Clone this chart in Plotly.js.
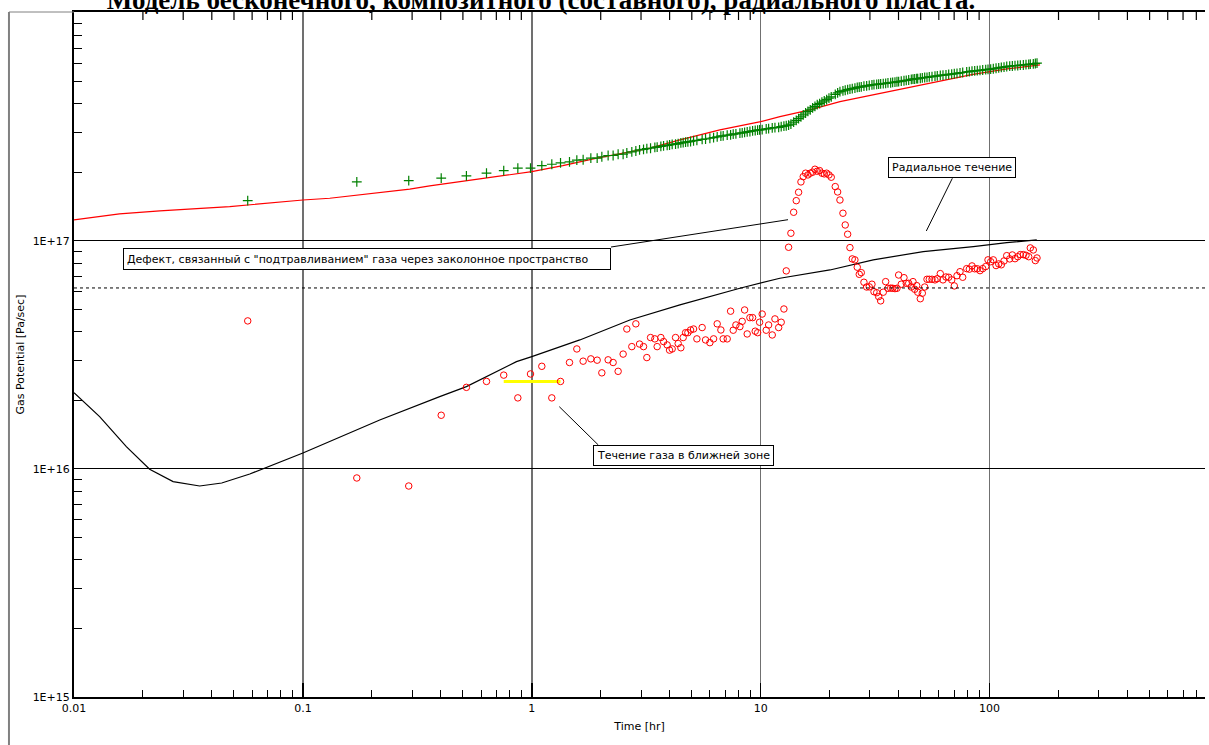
<!DOCTYPE html>
<html>
<head>
<meta charset="utf-8">
<script src="https://cdn.plot.ly/plotly-3.0.1.min.js"></script>
<style>html,body{margin:0;padding:0;background:#fff;}#chart{width:1209px;height:745px;}</style>
</head>
<body>
<div id="chart"></div>
<script>
// ---- data (time in hours, gas potential in Pa/sec) ----
const time = [
0.0574, 0.172, 0.290, 0.402, 0.518, 0.634, 0.754, 0.869, 0.987, 1.106, 1.223, 1.335,
1.461, 1.573, 1.676, 1.811, 1.930, 2.023, 2.155, 2.266, 2.383, 2.506, 2.601, 2.735, 2.848, 2.956,
3.077, 3.181, 3.302, 3.448, 3.529, 3.663, 3.764, 3.903, 3.998, 4.104, 4.246, 4.359, 4.479, 4.585,
4.697, 4.807, 4.939, 5.090, 5.263, 5.549, 5.742, 5.998, 6.225, 6.455, 6.699, 6.856, 7.139, 7.387,
7.584, 7.793, 8.113, 8.302, 8.505, 8.730, 8.971, 9.218, 9.462, 9.694, 9.890, 10.15, 10.57, 10.83,
11.23, 11.54, 11.98, 12.29, 12.63,
12.93, 13.24, 13.55, 13.93, 14.30, 14.64, 14.99, 15.34, 15.71, 16.08, 16.46, 16.86, 17.26, 17.66,
18.09, 18.51, 18.95, 19.41, 19.87, 20.33, 21.17, 21.68, 22.19, 22.87, 23.40, 23.98, 24.54, 25.12,
25.80, 26.41, 26.95, 27.50, 28.25, 29.03, 29.80, 30.62, 31.25, 32.11, 32.76, 33.42, 34.31, 35.15,
35.97, 36.96, 37.71, 38.59, 39.38, 40.06, 41.12, 42.26, 43.24, 44.31, 45.49, 46.27, 47.07, 48.03,
48.52, 49.80, 50.82, 52.05, 53.27, 54.51, 56.02, 57.73, 59.08, 60.89, 62.56, 64.48, 66.26, 68.29,
70.11, 72.04, 74.25, 76.29, 79.42, 81.53, 83.77, 86.08, 88.36, 90.78, 93.28, 96.16, 98.4, 101.1,
103.8, 106.7, 109.6, 112.5, 115.6, 118.8, 122.4, 125.7, 129.1, 132.7, 136.2, 140.4, 144.2, 148.2,
150.6, 155.2, 158.4, 161.1];

const derivative = [
4.46e16, 9.13e15, 8.42e15, 1.72e16, 2.28e16, 2.42e16, 2.58e16, 2.05e16, 2.61e16, 2.82e16, 2.05e16, 2.42e16,
2.93e16, 3.36e16, 2.97e16, 3.04e16, 3.00e16, 2.64e16, 3.01e16, 2.93e16, 2.68e16, 3.19e16, 4.11e16, 3.44e16,
4.33e16, 3.53e16, 3.44e16, 3.08e16, 3.77e16, 3.72e16, 3.44e16, 3.77e16, 3.62e16, 3.50e16, 3.32e16, 3.36e16,
3.77e16, 3.55e16, 3.40e16, 3.77e16, 3.96e16, 3.96e16, 4.07e16, 4.11e16, 3.72e16, 4.17e16, 3.68e16, 3.58e16,
3.72e16, 4.33e16, 4.07e16, 3.72e16, 3.72e16, 4.92e16, 4.06e16, 4.28e16, 4.21e16, 4.44e16, 4.98e16, 3.91e16,
4.61e16, 4.61e16, 4.02e16, 3.96e16, 4.40e16, 4.78e16, 4.06e16, 4.28e16, 3.87e16, 4.55e16, 4.17e16, 4.40e16,
5.03e16,
7.39e16, 9.38e16, 1.081e17, 1.336e17, 1.502e17, 1.635e17, 1.815e17, 1.914e17, 1.982e17, 1.948e17, 1.982e17,
2.002e17, 2.063e17, 2.022e17, 2.034e17, 1.982e17, 1.968e17, 1.982e17, 1.948e17, 1.903e17, 1.731e17, 1.640e17,
1.512e17, 1.323e17, 1.175e17, 1.070e17, 9.35e16, 8.34e16, 8.26e16, 7.67e16, 7.14e16, 7.26e16, 6.59e16,
6.28e16, 6.29e16, 6.46e16, 5.99e16, 5.93e16, 5.70e16, 5.46e16, 5.96e16, 6.63e16, 6.20e16, 6.21e16, 6.20e16,
6.18e16, 6.20e16, 7.09e16, 6.46e16, 6.90e16, 6.52e16, 6.52e16, 6.28e16, 6.63e16, 6.14e16, 6.37e16, 5.96e16,
5.58e16, 5.90e16, 6.28e16, 6.79e16, 6.79e16, 6.79e16, 6.75e16, 6.83e16, 7.19e16, 6.75e16, 6.95e16, 6.93e16,
6.75e16, 6.35e16, 7.04e16, 7.33e16, 6.93e16, 7.56e16, 7.52e16, 7.77e16, 7.55e16, 7.55e16, 7.41e16, 7.56e16,
7.72e16, 8.26e16, 8.11e16, 8.26e16, 7.80e16, 7.93e16, 7.86e16, 8.17e16, 8.62e16, 8.34e16, 8.68e16, 8.36e16,
8.53e16, 8.71e16, 8.71e16, 8.65e16, 8.53e16, 9.32e16, 9.13e16, 8.20e16, 8.42e16];

const pressure = [
1.502e17, 1.815e17, 1.839e17, 1.884e17, 1.928e17, 1.982e17, 2.034e17, 2.084e17, 2.084e17, 2.139e17, 2.169e17, 2.198e17,
2.22e17, 2.26e17, 2.27e17, 2.31e17, 2.31e17, 2.34e17, 2.37e17, 2.37e17, 2.40e17, 2.40e17, 2.43e17, 2.46e17,
2.48e17, 2.51e17, 2.52e17, 2.54e17, 2.55e17, 2.57e17, 2.58e17, 2.60e17, 2.61e17, 2.625e17, 2.635e17, 2.65e17,
2.66e17, 2.67e17, 2.69e17, 2.70e17, 2.71e17, 2.72e17, 2.73e17, 2.75e17, 2.76e17, 2.79e17, 2.80e17, 2.82e17,
2.84e17, 2.86e17, 2.88e17, 2.89e17, 2.91e17, 2.92e17, 2.94e17, 2.95e17, 2.97e17, 2.98e17, 2.995e17, 3.01e17,
3.02e17, 3.04e17, 3.05e17, 3.06e17, 3.07e17, 3.08e17, 3.10e17, 3.11e17, 3.13e17, 3.14e17, 3.15e17, 3.17e17,
3.19e17,
3.20e17, 3.22e17, 3.25e17, 3.32e17, 3.38e17, 3.44e17, 3.50e17, 3.57e17, 3.64e17, 3.70e17, 3.76e17, 3.83e17,
3.89e17, 3.96e17, 4.00e17, 4.06e17, 4.11e17, 4.17e17, 4.23e17, 4.28e17, 4.39e17, 4.46e17, 4.52e17, 4.55e17,
4.58e17, 4.61e17, 4.63e17, 4.66e17, 4.68e17, 4.71e17, 4.73e17, 4.74e17, 4.77e17, 4.79e17, 4.81e17, 4.84e17,
4.85e17, 4.86e17, 4.87e17, 4.88e17, 4.90e17, 4.91e17, 4.93e17, 4.94e17, 4.96e17, 4.97e17, 4.99e17, 5.00e17,
5.02e17, 5.04e17, 5.06e17, 5.08e17, 5.11e17, 5.12e17, 5.13e17, 5.15e17, 5.15e17, 5.17e17, 5.19e17, 5.21e17,
5.22e17, 5.24e17, 5.26e17, 5.28e17, 5.30e17, 5.32e17, 5.34e17, 5.35e17, 5.38e17, 5.39e17, 5.41e17, 5.43e17,
5.46e17, 5.48e17, 5.51e17, 5.53e17, 5.55e17, 5.57e17, 5.58e17, 5.60e17, 5.62e17, 5.64e17, 5.65e17, 5.67e17,
5.69e17, 5.72e17, 5.74e17, 5.77e17, 5.79e17, 5.82e17, 5.84e17, 5.85e17, 5.87e17, 5.88e17, 5.90e17, 5.91e17,
5.93e17, 5.95e17, 5.96e17, 5.98e17, 6.00e17, 6.02e17];

const modelPressureTime = [0.01, 0.0158, 0.0237, 0.0354, 0.0479, 0.1, 0.131, 0.293, 0.358, 0.592, 1.0, 1.366,
  1.923, 3.28, 4.44, 6.63, 10, 12.13, 16.41, 22.19, 30.94, 40.6, 60.7, 84.6, 119.2, 166.1];
const modelPressure = [1.236e17, 1.313e17, 1.354e17, 1.391e17, 1.414e17, 1.512e17, 1.539e17, 1.686e17, 1.743e17,
  1.870e17, 2.013e17, 2.139e17, 2.306e17, 2.551e17, 2.773e17, 3.068e17, 3.336e17, 3.509e17, 3.754e17, 4.083e17,
  4.369e17, 4.595e17, 4.996e17, 5.375e17, 5.68e17, 5.915e17];

const modelDerivTime = [0.01, 0.01294, 0.01693, 0.0214, 0.0271, 0.0354, 0.0442, 0.0586, 0.1, 0.1448, 0.2166,
  0.396, 0.518, 0.857, 1.0, 1.621, 2.681, 4.436, 8.11, 12.13, 20.07, 31.02, 51.3, 84.9, 118.8, 160.7];
const modelDeriv = [2.161e16, 1.696e16, 1.253e16, 9.97e15, 8.80e15, 8.42e15, 8.68e15, 9.51e15, 1.175e16, 1.381e16,
  1.640e16, 2.076e16, 2.296e16, 2.956e16, 3.108e16, 3.68e16, 4.50e16, 5.24e16, 6.20e16, 6.86e16, 7.46e16, 8.26e16,
  8.98e16, 9.44e16, 9.83e16, 1.01e17];

const nearZoneTime = [0.754, 1.335];
const nearZoneLevel = [2.42e16, 2.42e16];
const stabilizedLevel = [6.22e16];

const xTickVals = [0.01, 0.1, 1, 10, 100];
const xTickText = ['0.01', '0.1', '1', '10', '100'];
const yTickVals = [1e15, 1e16, 1e17];
const yTickText = ['1E+15', '1E+16', '1E+17'];
const xMax = 873;

const labels = {
  title: 'Модель бесконечного, композитного (составного), радиального пласта.',
  xTitle: 'Time [hr]',
  yTitle: 'Gas Potential [Pa/sec]',
  defect: 'Дефект, связанный с "подтравливанием" газа через заколонное пространство',
  radial: 'Радиальное течение',
  nearZone: 'Течение газа в ближней зоне'
};

// minor tick positions (2..9 in every decade)
function minorTicks(lo, hi) {
  const out = [];
  for (let e = lo; e < hi; e++) for (let m = 2; m <= 9; m++) out.push(m * Math.pow(10, e));
  return out;
}

const FONT = 'DejaVu Sans, Verdana, sans-serif';

const traces = [
  { x: modelPressureTime, y: modelPressure, type: 'scatter', mode: 'lines',
    line: { color: '#ff0000', width: 1.2 } },
  { x: time, y: pressure, type: 'scatter', mode: 'markers',
    marker: { symbol: 'cross-thin-open', size: 7, color: '#008000', line: { color: '#008000', width: 1.2 } } },
  { x: modelDerivTime, y: modelDeriv, type: 'scatter', mode: 'lines',
    line: { color: '#000000', width: 1.2 } },
  { x: nearZoneTime, y: nearZoneLevel, type: 'scatter', mode: 'lines',
    line: { color: '#ffff00', width: 3 } },
  { x: time, y: derivative, type: 'scatter', mode: 'markers',
    marker: { symbol: 'circle-open', size: 6.5, color: '#ff0000', line: { color: '#ff0000', width: 1 } } }
];

const boxStyle = { showarrow: false, bordercolor: '#000', borderwidth: 1, bgcolor: '#fff',
  font: { family: FONT, size: 11, color: '#000' }, xref: 'paper', yref: 'paper',
  xanchor: 'center', yanchor: 'middle' };

const axisFont = { family: FONT, size: 11, color: '#000' };

// tick marks hanging from the top frame (x axis is mirrored as a line only)
const topTickShapes = minorTicks(-2, 3).filter(v => v <= xMax).map(v => ({
  type: 'line', xref: 'x', yref: 'paper', x0: v, x1: v, y0: 1, y1: 1 - 8 / 685,
  line: { color: '#000', width: 1.2 }
}));

const layout = {
  width: 1209, height: 745,
  margin: { l: 74, r: 4, t: 12, b: 48 },
  paper_bgcolor: '#fff', plot_bgcolor: '#fff',
  showlegend: false,
  hovermode: false,
  title: { text: '<b>' + labels.title + '</b>',
    font: { family: 'Liberation Serif, Times New Roman, serif', size: 27, color: '#000' },
    xref: 'container', x: 0.4475, xanchor: 'center', yref: 'container', y: 1, yanchor: 'middle' },
  xaxis: {
    type: 'log', range: [-2, 2.941], autorange: false,
    tickmode: 'array', tickvals: xTickVals, ticktext: xTickText,
    ticks: 'inside', ticklen: 14, tickwidth: 1.5, tickcolor: '#000',
    showline: true, linecolor: '#000', linewidth: 2, mirror: true,
    showgrid: true, gridcolor: '#707070', gridwidth: 1.5, zeroline: false,
    minor: { tickmode: 'array', tickvals: minorTicks(-2, 3), ticks: 'inside', ticklen: 7, tickwidth: 1, tickcolor: '#000', showgrid: false },
    tickfont: axisFont,
    title: { text: labels.xTitle, font: axisFont, standoff: 8 }
  },
  yaxis: {
    type: 'log', range: [15, 18.004], autorange: false,
    tickmode: 'array', tickvals: yTickVals, ticktext: yTickText,
    ticks: 'inside', ticklen: 8, tickwidth: 1, tickcolor: '#000',
    showline: true, linecolor: '#000', linewidth: 2, mirror: false,
    showgrid: true, gridcolor: '#000', gridwidth: 1, zeroline: false,
    minor: { tickmode: 'array', tickvals: minorTicks(15, 18), ticks: 'inside', ticklen: 8, tickwidth: 1, tickcolor: '#000', showgrid: false },
    tickfont: axisFont,
    title: { text: labels.yTitle, font: axisFont, standoff: 6 }
  },
  shapes: [
    // dashed stabilization level
    { type: 'line', xref: 'paper', x0: 0, x1: 1, yref: 'y', y0: stabilizedLevel[0], y1: stabilizedLevel[0],
      line: { color: '#000', width: 1, dash: '3px,3px' } },
    // outer frame
    { type: 'line', xref: 'paper', yref: 'paper', x0: -0.0575, x1: -0.0575, y0: -0.08, y1: 1,
      line: { color: '#808080', width: 2 } },
    { type: 'line', xref: 'paper', yref: 'paper', x0: -0.0575, x1: 0, y0: 1, y1: 1,
      line: { color: '#808080', width: 1 } },
    // leader lines
    { type: 'line', xref: 'paper', yref: 'paper', x0: 0.4748, y0: 0.6569, x1: 0.6313, y1: 0.6968,
      line: { color: '#000', width: 1 } },
    { type: 'line', xref: 'paper', yref: 'paper', x0: 0.7766, y0: 0.7572, x1: 0.7536, y1: 0.6803,
      line: { color: '#000', width: 1 } },
    { type: 'line', xref: 'paper', yref: 'paper', x0: 0.4291, y0: 0.4238, x1: 0.4636, y1: 0.3679,
      line: { color: '#000', width: 1 } }
  ].concat(topTickShapes),
  annotations: [
    Object.assign({}, boxStyle, { text: labels.defect, x: 0.2591, y: 0.639, width: 480, height: 14, borderpad: 3, align: 'left' }),
    Object.assign({}, boxStyle, { text: labels.radial, x: 0.7765, y: 0.7734, borderpad: 3, align: 'center' }),
    Object.assign({}, boxStyle, { text: labels.nearZone, x: 0.5385, y: 0.3521, borderpad: 3, align: 'center' })
  ]
};

Plotly.newPlot('chart', traces, layout, { staticPlot: true, displayModeBar: false });
</script>
</body>
</html>
